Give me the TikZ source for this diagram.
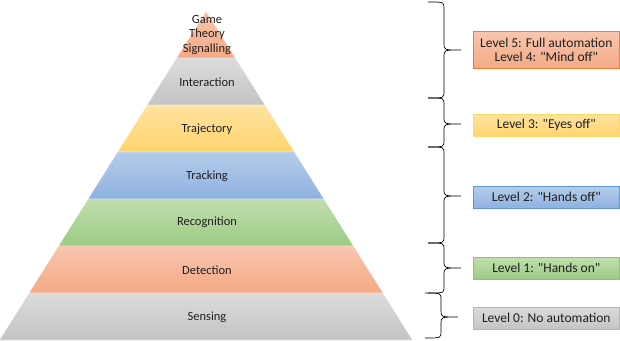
\documentclass[tikz,border=0pt]{standalone}
\usepackage{fontspec}
\setmainfont{Carlito}
\definecolor{txt}{HTML}{1F1F1F}
\definecolor{orT}{HTML}{F8C6AE}
\definecolor{orB}{HTML}{F4A985}
\definecolor{grT}{HTML}{DBDBDB}
\definecolor{grB}{HTML}{C4C4C4}
\definecolor{yeT}{HTML}{FFE3A0}
\definecolor{yeB}{HTML}{FFD46E}
\definecolor{blT}{HTML}{B5CCEA}
\definecolor{blB}{HTML}{8FB1E0}
\definecolor{gnT}{HTML}{C0DEAE}
\definecolor{gnB}{HTML}{9CCB84}
\definecolor{orE}{HTML}{ED7D31}
\definecolor{yeE}{HTML}{FFD966}
\definecolor{blE}{HTML}{5B9BD5}
\definecolor{gnE}{HTML}{8DC26E}
\definecolor{grE}{HTML}{B5B5B5}
\newcommand\BraceDraw[6]{% xend, xbody, xtip, ytop, ymid, ybot
  \draw[bracelin] ({#1},{#4}) .. controls ({#2},{#4}) .. ({#2},{#4+6})
    -- ({#2},{#5-6}) .. controls ({#2},{#5}) .. ({#3},{#5})
    .. controls ({#2},{#5}) .. ({#2},{#5+6})
    -- ({#2},{#6-6}) .. controls ({#2},{#6}) .. ({#1},{#6});}
\newcommand\qq{\textquotedbl}
\begin{document}
\begin{tikzpicture}[x=1pt,y=-1pt,
  lbl/.style={font=\fontsize{12.5}{14.5}\selectfont, text=txt, align=center, inner sep=0pt},
  layer/.style={draw=white, line width=0.4pt},
  lvbox/.style={minimum width=146pt, minimum height=22pt, inner sep=0pt, line width=0.6pt,
    font=\fontsize{13.5}{13.5}\selectfont, text=txt, align=center, anchor=north west},
  bracelin/.style={draw=black, line width=0.7pt}]
\useasboundingbox (0,0) rectangle (620,340);
% pyramid: apex (206,11), half-width grows 0.628 per px
\def\s{0.628}
\shade[layer, top color=orT, bottom color=orB] (206,11) -- ({206+\s*47},58) -- ({206-\s*47},58) -- cycle;
\shade[layer, top color=grT, bottom color=grB] ({206-\s*47},58) -- ({206+\s*47},58) -- ({206+\s*94},105) -- ({206-\s*94},105) -- cycle;
\shade[layer, top color=yeT, bottom color=yeB] ({206-\s*94},105) -- ({206+\s*94},105) -- ({206+\s*141},152) -- ({206-\s*141},152) -- cycle;
\shade[layer, top color=blT, bottom color=blB] ({206-\s*141},152) -- ({206+\s*141},152) -- ({206+\s*188},199) -- ({206-\s*188},199) -- cycle;
\shade[layer, top color=gnT, bottom color=gnB] ({206-\s*188},199) -- ({206+\s*188},199) -- ({206+\s*235},246) -- ({206-\s*235},246) -- cycle;
\shade[layer, top color=orT, bottom color=orB] ({206-\s*235},246) -- ({206+\s*235},246) -- ({206+\s*282},293) -- ({206-\s*282},293) -- cycle;
\shade[layer, top color=grT, bottom color=grB] ({206-\s*282},293) -- ({206+\s*282},293) -- ({206+\s*329},340) -- ({206-\s*329},340) -- cycle;
% layer labels
\node[lbl] (game) at (207,35) {Game\\Theory\\Signalling};
\node[lbl] (inter) at (207,82) {Interaction};
\node[lbl] (traj) at (207,129) {Trajectory};
\node[lbl] (track) at (207,176) {Tracking};
\node[lbl] (recog) at (207,222) {Recognition};
\node[lbl] (detect) at (207,270) {Detection};
\node[lbl] (sens) at (207,317) {Sensing};
% braces
\BraceDraw{428}{444}{461}{2}{50}{98}
\BraceDraw{428}{444}{461}{98}{124}{147}
\BraceDraw{428}{444}{461}{147}{196}{243}
\BraceDraw{428}{444}{461}{243}{268}{293}
\BraceDraw{425}{441}{458}{293}{317}{338}
% level boxes
\node[lvbox, minimum height=37pt, draw=orE, top color=orT, bottom color=orB] (l5) at (473,31) {Level 5: Full automation\\Level 4: \qq Mind off\qq};
\node[lvbox, draw=yeE, top color=yeT, bottom color=yeB] (l3) at (473,114) {Level 3: \qq Eyes off\qq};
\node[lvbox, draw=blE, top color=blT, bottom color=blB] (l2) at (473,186) {Level 2: \qq Hands off\qq};
\node[lvbox, draw=gnE, top color=gnT, bottom color=gnB] (l1) at (473,257) {Level 1: \qq Hands on\qq};
\node[lvbox, draw=grE, top color=grT, bottom color=grB] (l0) at (473,307) {Level 0: No automation};
\end{tikzpicture}
\end{document}
